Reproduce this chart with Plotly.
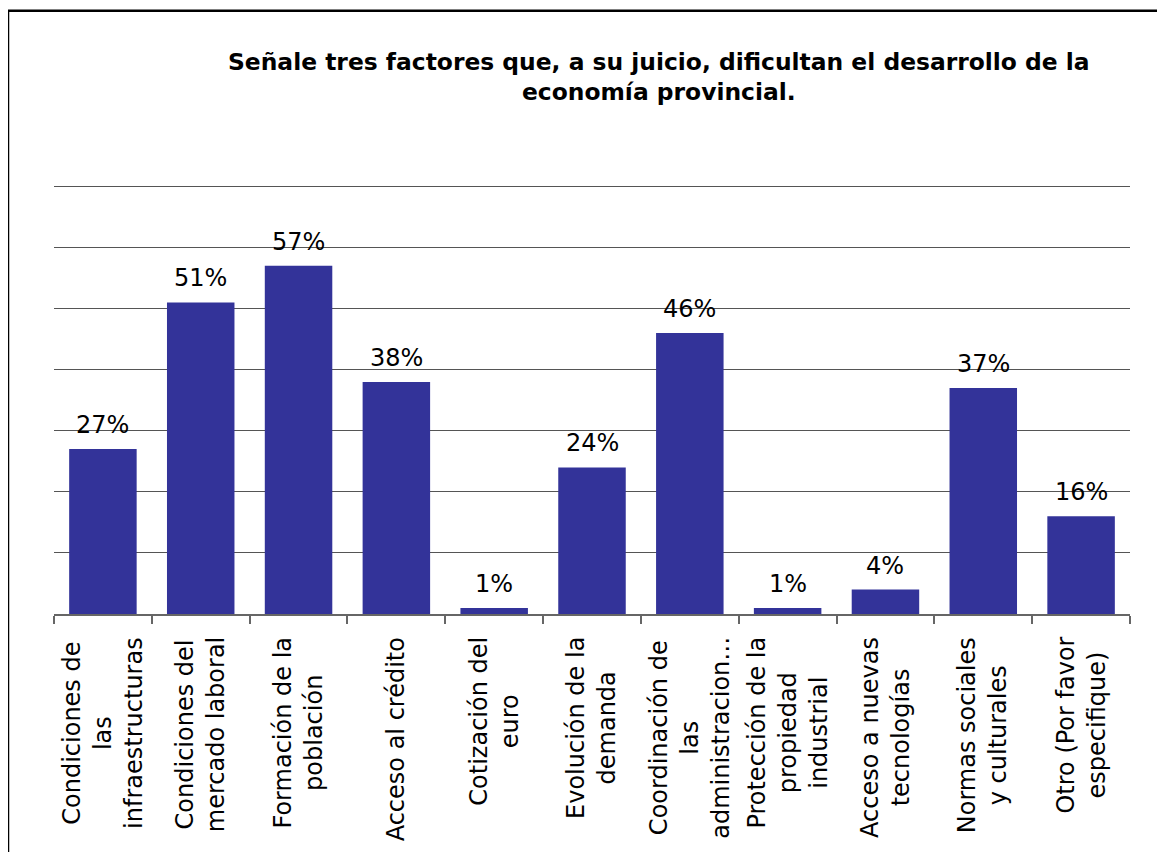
import plotly.graph_objects as go

categories = [
    "Condiciones de<br>las<br>infraestructuras",
    "Condiciones del<br>mercado laboral",
    "Formación de la<br>población",
    "Acceso al crédito",
    "Cotización del<br>euro",
    "Evolución de la<br>demanda",
    "Coordinación de<br>las<br>administracion…",
    "Protección de la<br>propiedad<br>industrial",
    "Acceso a nuevas<br>tecnologías",
    "Normas sociales<br>y culturales",
    "Otro (Por favor<br>especifique)",
]
values = [27, 51, 57, 38, 1, 24, 46, 1, 4, 37, 16]
value_labels = ["27%", "51%", "57%", "38%", "1%", "24%", "46%", "1%", "4%", "37%", "16%"]
ids = [f"c{i}" for i in range(len(categories))]
title_text = "Señale tres factores que, a su juicio, dificultan el desarrollo de la<br>economía provincial."

OFF = 8  # page body margin
YMAX = 70.4
W, H = 1165 - OFF, 852 - OFF
PPU = (614 - 186) / 70.0  # pixels per unit
L, R, B = 54 - OFF, 1130 - OFF, 614 - OFF
T = B - YMAX * PPU  # plot top in figure pixels

def px_x(p):  # p in reference screen pixels
    return (p - OFF - L) / (R - L)

def px_y(p):
    return (B - (p - OFF)) / (B - T)

fig = go.Figure()
fig.add_trace(go.Bar(
    x=ids, y=values,
    marker=dict(color="#333399", line=dict(width=0)),
    hoverinfo="skip",
))

ann = []
for cid, v, lab in zip(ids, values, value_labels):
    ann.append(dict(x=cid, y=v, xref="x", yref="y", text=lab, showarrow=False,
                    yanchor="bottom", xanchor="center", yshift=8,
                    font=dict(family="DejaVu Sans", size=24, color="black")))
for cid, cat in zip(ids, categories):
    ann.append(dict(x=cid, y=px_y(635), xref="x", yref="paper", text=cat, showarrow=False,
                    textangle=-90, yanchor="top", xanchor="center", align="center",
                    font=dict(family="DejaVu Sans", size=24, color="black")))
ann.append(dict(x=px_x(659), y=px_y(45), xref="paper", yref="paper", text="<b>" + title_text + "</b>",
                showarrow=False, xanchor="center", yanchor="top", align="center",
                font=dict(family="DejaVu Sans", size=23.4, color="black")))

fig.update_layout(
    width=W, height=H,
    margin=dict(l=L, r=W - R, t=T, b=H - B, pad=0),
    paper_bgcolor="white", plot_bgcolor="white",
    showlegend=False,
    bargap=0.31,
    annotations=ann,
    shapes=[dict(type="rect", xref="paper", yref="paper",
                 x0=px_x(8), x1=px_x(1180), y0=px_y(10), y1=px_y(870),
                 line=dict(color="black", width=2.5), fillcolor="rgba(0,0,0,0)", layer="above")],
    xaxis=dict(type="category", showticklabels=False, ticks="outside", tickson="boundaries",
               ticklen=8, tickcolor="#666666", tickwidth=1.5,
               showline=True, linecolor="#666666", linewidth=1.5, showgrid=False, zeroline=False,
               range=[-0.5, len(ids) - 0.5]),
    yaxis=dict(range=[0, YMAX], tick0=0, dtick=10, showticklabels=False, showgrid=True,
               gridcolor="#555555", gridwidth=1.2, zeroline=False, showline=False, ticks=""),
)

fig.write_html("out.html")
